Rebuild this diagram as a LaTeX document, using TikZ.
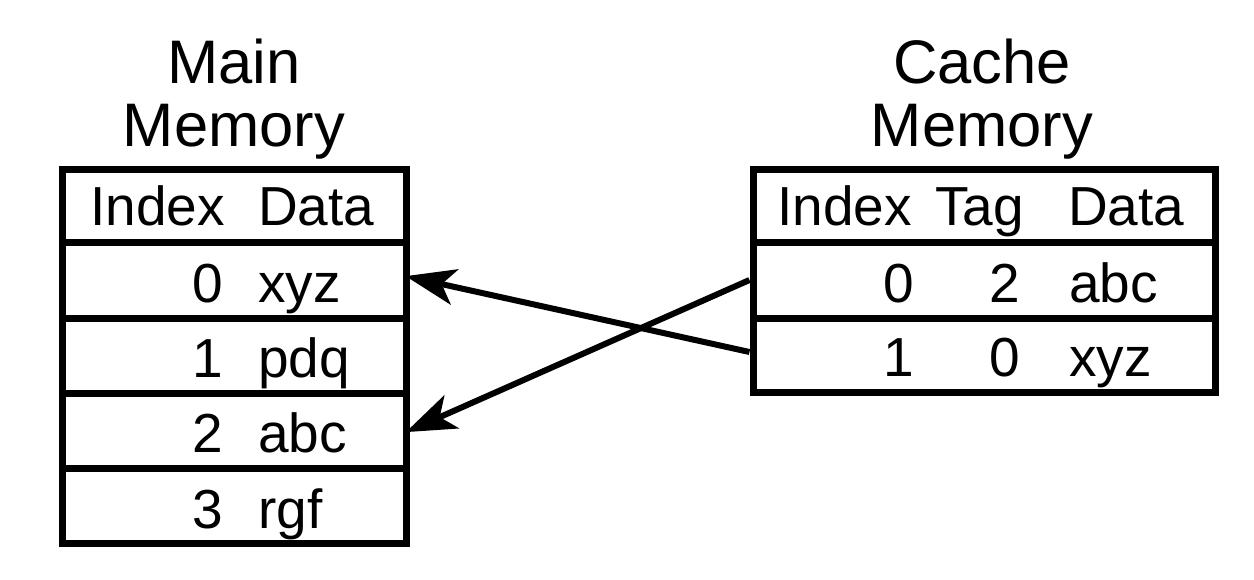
\documentclass[tikz,border=0pt]{standalone}
\usepackage{fontspec}
\setmainfont{Liberation Sans}
\usetikzlibrary{arrows.meta}
\begin{document}
\begin{tikzpicture}[x=1pt,y=-1pt,
  cell/.style={draw=black,line width=7pt,rectangle,inner sep=0pt,minimum width=#1},
  txt/.style={inner sep=0pt,font=\fontsize{55}{60}\selectfont},
  ttl/.style={inner sep=0pt,font=\fontsize{61.5}{63}\selectfont,anchor=base},
  conn/.style={line width=6pt,-{Stealth[length=50pt,width=36pt,inset=13pt]},shorten >=-4pt}]
\useasboundingbox (0,0) rectangle (1254,579);
% Main memory table
\node[cell=344pt,minimum height=73pt] (mh) at (234,205.5) {};
\node[cell=344pt,minimum height=76pt] (m0) at (234,280) {};
\node[cell=344pt,minimum height=75pt] (m1) at (234,355.5) {};
\node[cell=344pt,minimum height=75pt] (m2) at (234,430.5) {};
\node[cell=344pt,minimum height=75pt] (m3) at (234,505.5) {};
% Cache memory table
\node[cell=462pt,minimum height=73pt] (ch) at (984,205.5) {};
\node[cell=462pt,minimum height=76pt] (c0) at (984,280) {};
\node[cell=462pt,minimum height=74pt] (c1) at (984,355) {};
% Titles
\node[ttl] (mt1) at (234,83) {Main};
\node[ttl] (mt2) at (234,146) {Memory};
\node[ttl] (ct1) at (982,83) {Cache};
\node[ttl] (ct2) at (982,146) {Memory};
% Main memory text
\node[txt,anchor=base west] (mhi) at (90,225) {Index};
\node[txt,anchor=base west] (mhd) at (258,225) {Data};
\node[txt,anchor=base east] (mi0) at (223,302) {0};
\node[txt,anchor=base west] (md0) at (258,302) {xyz};
\node[txt,anchor=base east] (mi1) at (223,377) {1};
\node[txt,anchor=base west] (md1) at (258,377) {pdq};
\node[txt,anchor=base east] (mi2) at (223,452) {2};
\node[txt,anchor=base west] (md2) at (258,452) {abc};
\node[txt,anchor=base east] (mi3) at (223,528) {3};
\node[txt,anchor=base west] (md3) at (258,528) {rgf};
% Cache memory text
\node[txt,anchor=base west] (chi) at (777,225) {Index};
\node[txt,anchor=base west] (cht) at (935,225) {Tag};
\node[txt,anchor=base west] (chd) at (1068,225) {Data};
\node[txt,anchor=base east] (ci0) at (914,302) {0};
\node[txt,anchor=base east] (ct0) at (1020,302) {2};
\node[txt,anchor=base west] (cd0) at (1069,302) {abc};
\node[txt,anchor=base east] (ci1) at (914,376) {1};
\node[txt,anchor=base east] (ct1x) at (1020,376) {0};
\node[txt,anchor=base west] (cd1) at (1069,376) {xyz};
% Connectors
\draw[conn] (c0.west) -- (m2.east);
\draw[conn] ([yshift=3pt]c1.west) -- ([yshift=3pt]m0.east);
\end{tikzpicture}
\end{document}
